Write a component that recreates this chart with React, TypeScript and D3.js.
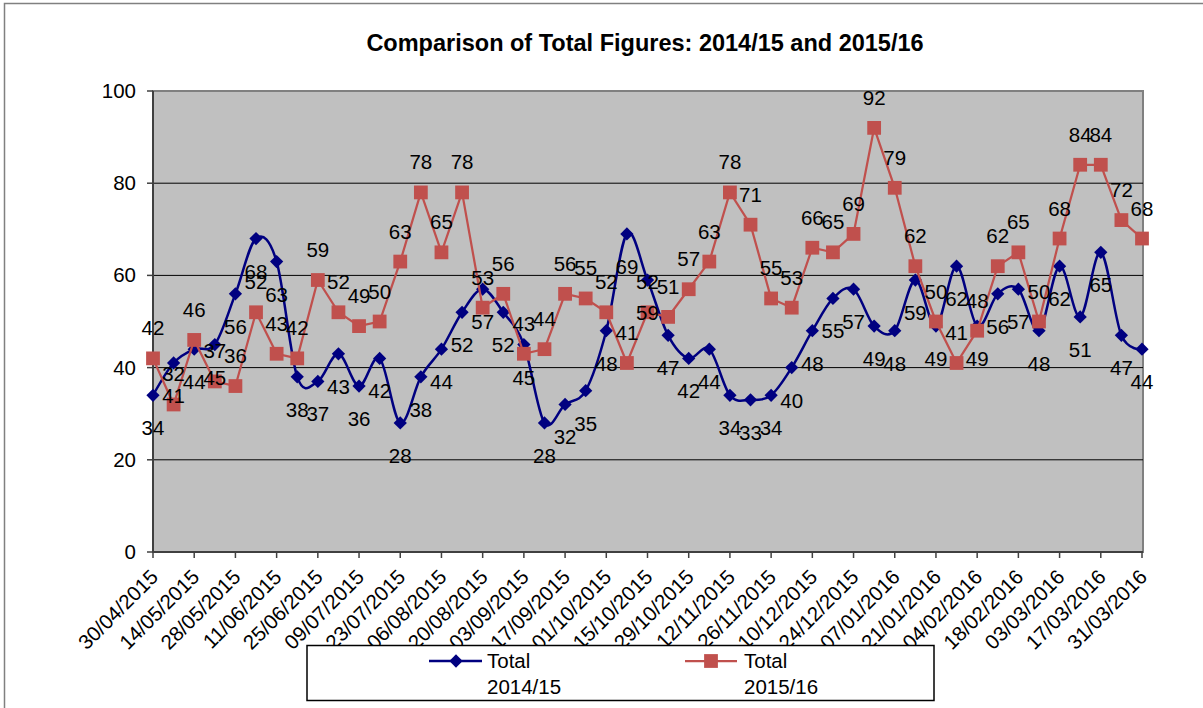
import React, { useEffect } from "react";
import * as d3 from "d3";

// weekly dates, one per point
const weeks = [
  "30/04/2015", "07/05/2015", "14/05/2015", "21/05/2015", "28/05/2015", "04/06/2015", "11/06/2015",
  "18/06/2015", "25/06/2015", "02/07/2015", "09/07/2015", "16/07/2015", "23/07/2015", "30/07/2015",
  "06/08/2015", "13/08/2015", "20/08/2015", "27/08/2015", "03/09/2015", "10/09/2015", "17/09/2015",
  "24/09/2015", "01/10/2015", "08/10/2015", "15/10/2015", "22/10/2015", "29/10/2015", "05/11/2015",
  "12/11/2015", "19/11/2015", "26/11/2015", "03/12/2015", "10/12/2015", "17/12/2015", "24/12/2015",
  "31/12/2015", "07/01/2016", "14/01/2016", "21/01/2016", "28/01/2016", "04/02/2016", "11/02/2016",
  "18/02/2016", "25/02/2016", "03/03/2016", "10/03/2016", "17/03/2016", "24/03/2016", "31/03/2016",
];

const total1415 = [
  34, 41, 44, 45, 56, 68, 63, 38, 37, 43, 36, 42, 28, 38, 44, 52, 57, 52, 45, 28, 32, 35, 48, 69, 59,
  47, 42, 44, 34, 33, 34, 40, 48, 55, 57, 49, 48, 59, 49, 62, 49, 56, 57, 48, 62, 51, 65, 47, 44,
];

const total1516 = [
  42, 32, 46, 37, 36, 52, 43, 42, 59, 52, 49, 50, 63, 78, 65, 78, 53, 56, 43, 44, 56, 55, 52, 41, 52,
  51, 57, 63, 78, 71, 55, 53, 66, 65, 69, 92, 79, 62, 50, 41, 48, 62, 65, 50, 68, 84, 84, 72, 68,
];

const yTicks = [0, 20, 40, 60, 80, 100];

const W = 1203;
const H = 708;
const left = 153;
const right = 1142;
const top = 91;
const bottom = 552;
const font = "Arial, 'Liberation Sans', sans-serif";
const blue = "#000080";
const red = "#C0504D";

export default function App() {
  useEffect(() => {
    document.body.style.margin = "0";
  }, []);

  const x = d3.scalePoint<string>().domain(weeks).range([left, right]);
  const y = d3.scaleLinear().domain([0, 100]).range([bottom, top]);

  const smooth = d3
    .line<number>()
    .x((d, i) => x(weeks[i])!)
    .y((d) => y(d))
    .curve(d3.curveCardinal.tension(0));
  const straight = d3
    .line<number>()
    .x((d, i) => x(weeks[i])!)
    .y((d) => y(d));

  const diamond = d3.symbol(d3.symbolSquare, 88)();
  const square = d3.symbol(d3.symbolSquare, 190)();

  const tickWeeks = weeks.filter((w, i) => i % 2 === 0);

  return (
    <svg width={W} height={H} style={{ display: "block", fontFamily: font }}>
      <rect x={0} y={0} width={W} height={H} fill="#fff" />
      <rect x={4.5} y={3.5} width={W + 20} height={H + 20} fill="none" stroke="#808080" strokeWidth={1.5} />

      <text x={645} y={51} textAnchor="middle" fontSize={23.5} fontWeight="bold" fill="#000">
        Comparison of Total Figures: 2014/15 and 2015/16
      </text>

      {/* plot area */}
      <rect x={left} y={top} width={right - left + 1} height={bottom - top} fill="#C0C0C0" stroke="#808080" strokeWidth={2} />
      {yTicks.slice(1, -1).map((t) => (
        <line key={t} x1={left} x2={right + 1} y1={y(t)} y2={y(t)} stroke="#000" strokeWidth={1} />
      ))}

      {/* y axis */}
      <line x1={left} x2={left} y1={top} y2={bottom} stroke="#404040" strokeWidth={2} />
      {yTicks.map((t) => (
        <g key={t}>
          <line x1={left - 6} x2={left} y1={y(t)} y2={y(t)} stroke="#404040" strokeWidth={1.5} />
          <text x={136} y={y(t) + 7} textAnchor="end" fontSize={20.5} fill="#000">
            {t}
          </text>
        </g>
      ))}

      {/* x axis */}
      <line x1={left} x2={right + 1} y1={bottom} y2={bottom} stroke="#404040" strokeWidth={2} />
      {tickWeeks.map((w) => (
        <g key={w}>
          <line x1={x(w)} x2={x(w)} y1={bottom} y2={bottom + 6} stroke="#404040" strokeWidth={1.5} />
          <text
            transform={`translate(${x(w)! + 1},${bottom + 21}) rotate(-45)`}
            textAnchor="end"
            dominantBaseline="central"
            fontSize={20.5}
            fill="#000"
          >
            {w}
          </text>
        </g>
      ))}

      {/* series */}
      <path d={smooth(total1415)!} fill="none" stroke={blue} strokeWidth={2.5} />
      {total1415.map((v, i) => (
        <path key={i} d={diamond!} transform={`translate(${x(weeks[i])},${y(v)}) rotate(45)`} fill={blue} />
      ))}
      <path d={straight(total1516)!} fill="none" stroke={red} strokeWidth={2.25} />
      {total1516.map((v, i) => (
        <path key={i} d={square!} transform={`translate(${x(weeks[i])},${y(v)})`} fill={red} />
      ))}

      {/* data labels */}
      {total1415.map((v, i) => (
        <text key={"b" + i} x={x(weeks[i])} y={y(v) + 40} textAnchor="middle" fontSize={20.5} fill="#000">
          {v}
        </text>
      ))}
      {total1516.map((v, i) => (
        <text key={"r" + i} x={x(weeks[i])} y={y(v) - 23} textAnchor="middle" fontSize={20.5} fill="#000">
          {v}
        </text>
      ))}

      {/* legend */}
      <rect x={307} y={645.5} width={627} height={55} fill="#fff" stroke="#000" strokeWidth={1.5} />
      <line x1={429} x2={482} y1={661} y2={661} stroke={blue} strokeWidth={2.5} />
      <path d={diamond!} transform="translate(456,661) rotate(45)" fill={blue} />
      <text x={487} y={668} fontSize={20.5} fill="#000">Total</text>
      <text x={487} y={694} fontSize={20.5} fill="#000">2014/15</text>
      <line x1={685} x2={737} y1={661} y2={661} stroke={red} strokeWidth={2.25} />
      <path d={square!} transform="translate(711,661)" fill={red} />
      <text x={744} y={668} fontSize={20.5} fill="#000">Total</text>
      <text x={744} y={694} fontSize={20.5} fill="#000">2015/16</text>
    </svg>
  );
}
